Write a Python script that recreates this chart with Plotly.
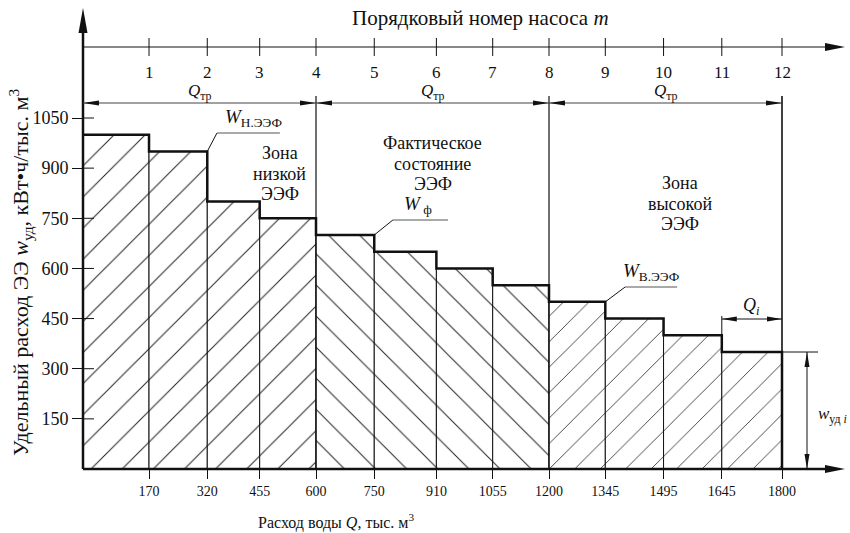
import math
import plotly.graph_objects as go

# ---------------- data ----------------
q_edges = [0, 170, 320, 455, 600, 750, 910, 1055, 1200, 1345, 1495, 1645, 1800]
w_ud = [1000, 950, 800, 750, 700, 650, 600, 550, 500, 450, 400, 350]
pump_numbers = [1, 2, 3, 4, 5, 6, 7, 8, 9, 10, 11, 12]
zone_edges = [0, 600, 1200, 1800]
zone_hatch = ["/", "\\", "/"]
zone_hatch_size = [22, 22, 18]
y_ticks = [150, 300, 450, 600, 750, 900, 1050]

# ---------------- geometry helpers ----------------
W, H = 850, 533
X0_PX, Y0_PX = 83, 469          # pixel position of the origin
SX = 699 / 1800                 # px per x unit
SY = 351 / 1050                 # px per y unit
XR = [-X0_PX / SX, (W - X0_PX) / SX]
YR = [-(H - Y0_PX) / SY, Y0_PX / SY]


def ux(p):  # pixel length -> x data length
    return p / SX


def uy(p):  # pixel length -> y data length
    return p / SY


FONT = "Liberation Serif"
BLACK = "#111111"

widths = [b - a for a, b in zip(q_edges[:-1], q_edges[1:])]
bar_shapes, bar_sizes = [], []
for a in q_edges[:-1]:
    for zi in range(3):
        if zone_edges[zi] <= a < zone_edges[zi + 1]:
            bar_shapes.append(zone_hatch[zi])
            bar_sizes.append(zone_hatch_size[zi])

fig = go.Figure()
fig.add_trace(go.Bar(
    x=q_edges[:-1], y=w_ud, width=widths, offset=0,
    marker=dict(color="white", line=dict(color=BLACK, width=1),
                pattern=dict(shape=bar_shapes, fgcolor="#222222", bgcolor="white",
                             size=bar_sizes, solidity=0.045, fillmode="replace")),
    hoverinfo="skip", showlegend=False))
fig.add_trace(go.Scatter(
    x=q_edges + [q_edges[-1]], y=w_ud + [w_ud[-1], 0], mode="lines",
    line=dict(shape="hv", width=2.5, color=BLACK), hoverinfo="skip", showlegend=False))

shapes = []
annots = []


def line(x0, y0, x1, y1, w=1, c=BLACK):
    shapes.append(dict(type="line", x0=x0, y0=y0, x1=x1, y1=y1, xref="x", yref="y",
                       line=dict(color=c, width=w)))


def head(xt, yt, ang, L, Wd):
    a = math.radians(ang)
    cx, cy = math.cos(a), math.sin(a)
    bx, by = -L * cx, -L * cy
    px, py = -cy, cx
    p1 = (xt + ux(bx + Wd / 2 * px), yt + uy(by + Wd / 2 * py))
    p2 = (xt + ux(bx - Wd / 2 * px), yt + uy(by - Wd / 2 * py))
    shapes.append(dict(type="path", xref="x", yref="y",
                       path=f"M {xt},{yt} L {p1[0]},{p1[1]} L {p2[0]},{p2[1]} Z",
                       fillcolor=BLACK, line=dict(width=0)))


def text(x, y, s, size=16, xanchor="center", yanchor="middle"):
    annots.append(dict(x=x, y=y, xref="x", yref="y", text=s, showarrow=False,
                       xanchor=xanchor, yanchor=yanchor,
                       font=dict(family=FONT, size=size, color=BLACK)))


# axes (drawn as lines with arrows)
Y_TIP = uy(Y0_PX - 8)
X_TIP = ux(845 - X0_PX)
line(0, 0, 0, Y_TIP - uy(20), w=2.5)
head(0, Y_TIP, 90, 25, 9)
line(0, 0, X_TIP - ux(15), 0, w=2.5)
head(X_TIP, 0, 0, 20, 8)
for t in y_ticks:
    line(0, t, ux(11), t, w=1)

# top axis: pump number
TOP_Y = uy(Y0_PX - 47)
line(0, TOP_Y, X_TIP - ux(15), TOP_Y, w=1)
head(X_TIP, TOP_Y, 0, 20, 8)
for q, n in zip(q_edges[1:], pump_numbers):
    line(q, TOP_Y - uy(9), q, TOP_Y + uy(9), w=1)
    text(q, uy(Y0_PX - 72), str(n), size=17)
text(ux(480 - X0_PX), uy(Y0_PX - 18), "Порядковый номер насоса <i>m</i>", size=21)

# zone boundaries and Q_tr dimension arrows
QTR_Y = uy(Y0_PX - 103)
ZTOP = uy(Y0_PX - 96)
for a, b in zip(zone_edges[:-1], zone_edges[1:]):
    line(b, 0, b, ZTOP, w=1.2)
    line(a, QTR_Y, b, QTR_Y, w=1.2, c="#444444")
    head(a, QTR_Y, 180, 16, 5)
    head(b, QTR_Y, 0, 16, 5)
    text((a + b) / 2, uy(Y0_PX - 92), "<i>Q</i><sub>тр</sub>", size=17)

# zone captions (one annotation per line for tight line spacing)
for cx, top_px, lines in [
        (507, 153, ["Зона", "низкой", "ЭЭФ"]),
        (901, 143, ["Фактическое", "состояние", "ЭЭФ"]),
        (1537, 183, ["Зона", "высокой", "ЭЭФ"])]:
    for k, s in enumerate(lines):
        text(cx, uy(Y0_PX - (top_px + 20.5 * k)), s, size=18)

# leader labels
for (qi, wi, ulx0, ulx1, uly, lab_x, lab) in [
        (2, 1, 345, 507, uy(Y0_PX - 133), 440, "<i>W</i><sub>Н.ЭЭФ</sub>"),
        (5, 4, 798, 940, uy(Y0_PX - 220), 862, "<i>W</i><sub> ф</sub>"),
        (9, 8, 1396, 1530, uy(Y0_PX - 287), 1462, "<i>W</i><sub>В.ЭЭФ</sub>")]:
    cx, cy = q_edges[qi], w_ud[wi]
    line(cx, cy, ulx0, uly, w=1)
    line(ulx0, uly, ulx1, uly, w=1, c="#555555")
    text(lab_x, uly + uy(1), lab, size=19, yanchor="bottom")

# Q_i dimension
QI_Y = uy(Y0_PX - 319)
line(q_edges[-2], w_ud[-1], q_edges[-2], QI_Y + uy(3), w=1)
line(q_edges[-1], w_ud[-1], q_edges[-1], ZTOP, w=1)
line(q_edges[-2], QI_Y, q_edges[-1], QI_Y, w=1)
head(q_edges[-2], QI_Y, 180, 15, 5)
head(q_edges[-1], QI_Y, 0, 15, 5)
text((q_edges[-2] + q_edges[-1]) / 2, uy(Y0_PX - 306), "<i>Q<sub>i</sub></i>", size=18)

# w_ud_i dimension
WX = ux(807 - X0_PX)
line(q_edges[-1], w_ud[-1], ux(818 - X0_PX), w_ud[-1], w=1)
line(WX, 0, WX, w_ud[-1], w=1)
head(WX, w_ud[-1], 90, 15, 5)
head(WX, 0, 270, 15, 5)
text(ux(832 - X0_PX), uy(Y0_PX - 415), "<i>w</i><sub>уд <i>i</i></sub>", size=17)

# axis titles
text(ux(336 - X0_PX), uy(Y0_PX - 521), "Расход воды <i>Q</i>, тыс. м<sup>3</sup>", size=16)
annots.append(dict(x=ux(20 - X0_PX), y=uy(Y0_PX - 272), xref="x", yref="y",
                   text="Удельный расход ЭЭ <i>w</i><sub>уд</sub>, кВт•ч/тыс. м<sup>3</sup>",
                   textangle=-90, showarrow=False,
                   font=dict(family=FONT, size=22, color=BLACK)))

fig.update_layout(
    width=W, height=H, margin=dict(l=0, r=0, t=0, b=0),
    paper_bgcolor="white", plot_bgcolor="white", showlegend=False,
    shapes=shapes, annotations=annots,
    xaxis=dict(range=XR, showgrid=False, zeroline=False, showline=False,
               tickvals=q_edges[1:], ticktext=[str(v) for v in q_edges[1:]],
               ticks="outside", ticklen=9, tickwidth=1, tickcolor=BLACK,
               tickfont=dict(family=FONT, size=14, color=BLACK),
               anchor="free", position=(H - Y0_PX) / H, automargin=False),
    yaxis=dict(range=YR, showgrid=False, zeroline=False, showline=False,
               tickvals=y_ticks, ticks="outside", ticklen=11, tickwidth=1,
               tickcolor=BLACK, tickfont=dict(family=FONT, size=18, color=BLACK),
               anchor="free", position=X0_PX / W, automargin=False),
)

fig.write_html("out.html", config={"displayModeBar": False},
               post_script="document.body.style.margin='0';"
                           "document.body.style.overflow='hidden';")
